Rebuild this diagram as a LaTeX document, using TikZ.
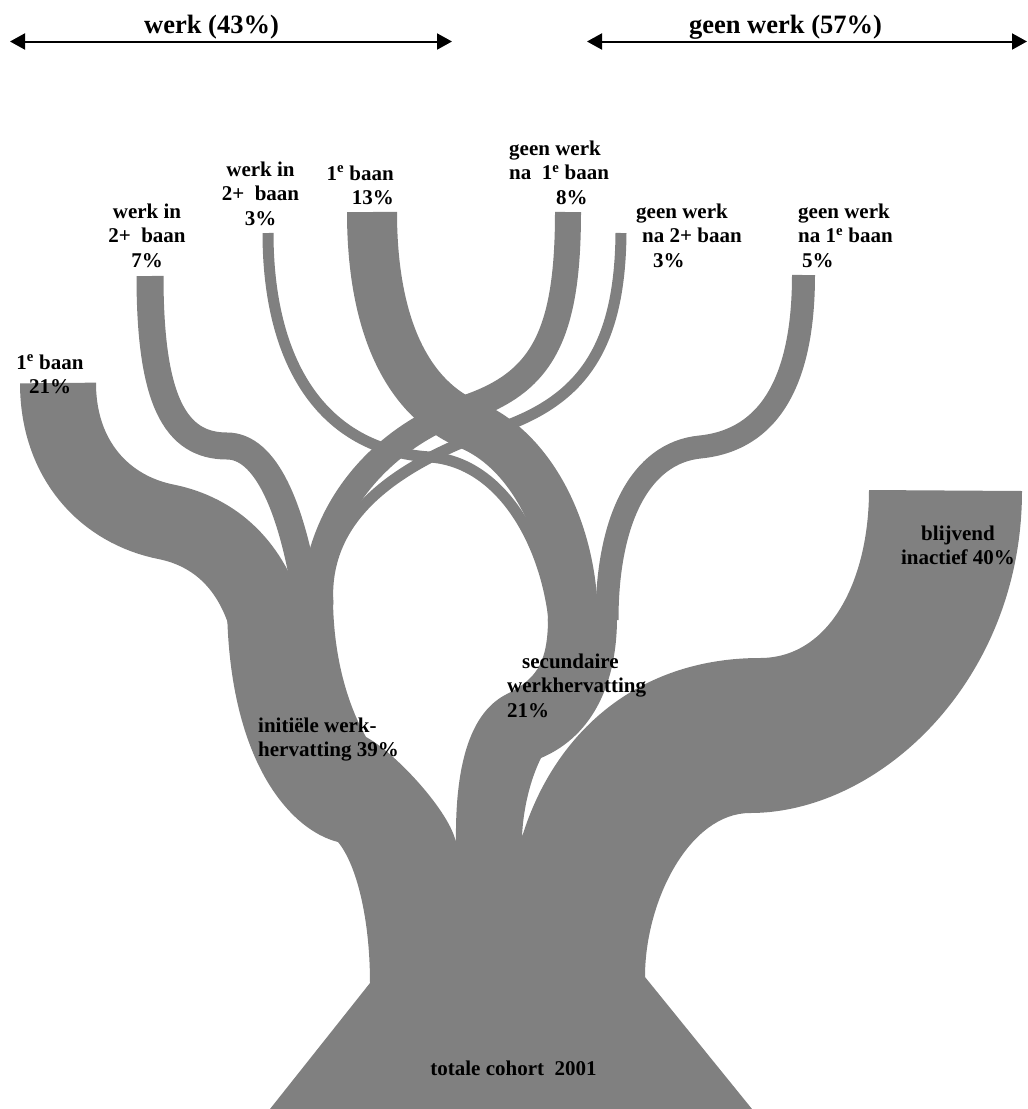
\documentclass[tikz,border=0pt]{standalone}
\usepackage{fontspec}
\setmainfont{Liberation Serif}
\usetikzlibrary{arrows.meta}
\definecolor{treegray}{RGB}{128,128,128}

\begin{document}
\begin{tikzpicture}[x=1pt,y=-1pt,
  band/.style={draw=treegray,line width=#1},
  lbl/.style={font=\bfseries\fontsize{21}{24.5}\selectfont,inner sep=0pt},
  toplbl/.style={font=\bfseries\fontsize{26.5}{30}\selectfont,inner sep=0pt},
  spanarrow/.style={line width=2pt,{Triangle[length=15pt,width=16pt]}-{Triangle[length=15pt,width=16pt]}}]
  \useasboundingbox (0,0) rectangle (1028,1109);

  % werk / geen werk
  \coordinate (werkL) at (10,41.5);
  \coordinate (werkR) at (452,41.5);
  \coordinate (geenL) at (587,41.5);
  \coordinate (geenR) at (1027,41.5);
  \draw[spanarrow] (werkL) -- (werkR);
  \draw[spanarrow] (geenL) -- (geenR);
  \node (werk) [toplbl,anchor=base] at (211.5,33) {werk (43\%)};
  \node (geen) [toplbl,anchor=base] at (785.5,33) {geen werk (57\%)};

  % stam, initiele en secundaire werkhervatting, blijvend inactief
  \fill[treegray] (270,1109) -- (370,983)
    .. controls (370,920) and (357,865) .. (338,842)
    .. controls (290,830) and (227,760) .. (227,600)
    -- (333,597)
    .. controls (333,650) and (345,700) .. (366,737)
    .. controls (396,753) and (451,813) .. (456,843)
    .. controls (455,770) and (468,715) .. (505,695)
    .. controls (535,680) and (548,665) .. (548,618)
    -- (617,618)
    .. controls (617,680) and (595,735) .. (541,758)
    .. controls (530,780) and (523,810) .. (522,837)
    .. controls (555,730) and (640,658) .. (760,658)
    .. controls (830,658) and (869,580) .. (869,490)
    -- (1022,491)
    .. controls (1022,680) and (880,813) .. (750,813)
    .. controls (690,813) and (645,900) .. (645,977)
    -- (752,1109) -- cycle;

  % takken
  \coordinate (b21top) at (58,383);   \coordinate (b21mid) at (167,522);  \coordinate (b21end) at (268,624);
  \coordinate (b7top) at (150,276);   \coordinate (b7mid) at (227,446);   \coordinate (b7end) at (307,602);
  \coordinate (b3wtop) at (268,233);  \coordinate (b3wmid) at (430,457);  \coordinate (b3wend) at (554,620);
  \coordinate (b13top) at (372,212);  \coordinate (b13mid) at (470,425);  \coordinate (b13end) at (573,622);
  \coordinate (b8top) at (568,212);   \coordinate (b8mid) at (460,410);   \coordinate (b8end) at (314,603);
  \coordinate (b3gtop) at (621,233);  \coordinate (b3gmid) at (500,428);  \coordinate (b3gend) at (328,605);
  \coordinate (b5top) at (803.5,275); \coordinate (b5mid) at (700,447);   \coordinate (b5end) at (607,620);

  \draw[band=76] (b21top) .. controls +(0,77) and +(-62,-12) .. (b21mid) .. controls +(48,10) and +(-16,-59) .. (b21end);
  \draw[band=27] (b7top) .. controls +(0,124) and +(-52,0) .. (b7mid) .. controls +(38,0) and +(-15,-97) .. (b7end);
  \draw[band=11] (b3wtop) .. controls +(0,127) and +(-110,-7) .. (b3wmid) .. controls +(70,5) and +(-9,-80) .. (b3wend);
  \draw[band=50] (b13top) .. controls +(0,118) and +(-60,-25) .. (b13mid) .. controls +(60,25) and +(0,-92) .. (b13end);
  \draw[band=26] (b8top) .. controls +(0,128) and +(80,-25) .. (b8mid) .. controls +(-80,30) and +(4,-93) .. (b8end);
  \draw[band=11] (b3gtop) .. controls +(-1,117) and +(80,-28) .. (b3gmid) .. controls +(-110,38) and +(-6,-85) .. (b3gend);
  \draw[band=23] (b5top) .. controls +(0,105) and +(70,-7) .. (b5mid) .. controls +(-60,6) and +(0,-100) .. (b5end);

  % labels
  \node (l21) [lbl,align=center,anchor=north] at (50,354.7) {1\textsuperscript{e} baan\\21\%};
  \node (l7) [lbl,align=center,anchor=north] at (147,203.7) {werk in\\2+\ \ baan\\7\%};
  \node (l3w) [lbl,align=center,anchor=north] at (260.5,161.7) {werk in\\2+\ \ baan\\3\%};
  \node (l13) [lbl,align=right,anchor=north east] at (394,165.7) {1\textsuperscript{e} baan\\13\%};
  \node (l8) [lbl,align=left,anchor=north west] at (509,140.7) {geen werk\\na\ \ 1\textsuperscript{e} baan\\\hspace*{47pt}8\%};
  \node (l3g) [lbl,align=left,anchor=north west] at (636,203.7) {geen werk\\\hspace*{6pt}na 2+ baan\\\hspace*{17pt}3\%};
  \node (l5) [lbl,align=left,anchor=north west] at (798,203.7) {geen werk\\na 1\textsuperscript{e} baan\\\hspace*{4pt}5\%};
  \node (l40) [lbl,align=center,anchor=north] at (958,525.7) {blijvend\\inactief 40\%};
  \node (lsec) [lbl,align=left,anchor=north west] at (507,653.7) {\hspace*{15pt}secundaire\\werkhervatting\\21\%};
  \node (lini) [lbl,align=left,anchor=north west] at (258,717.7) {initiële werk-\\hervatting 39\%};
  \node (ltot) [lbl,anchor=base] at (513.5,1075) {totale cohort\ \ 2001};
\end{tikzpicture}
\end{document}
